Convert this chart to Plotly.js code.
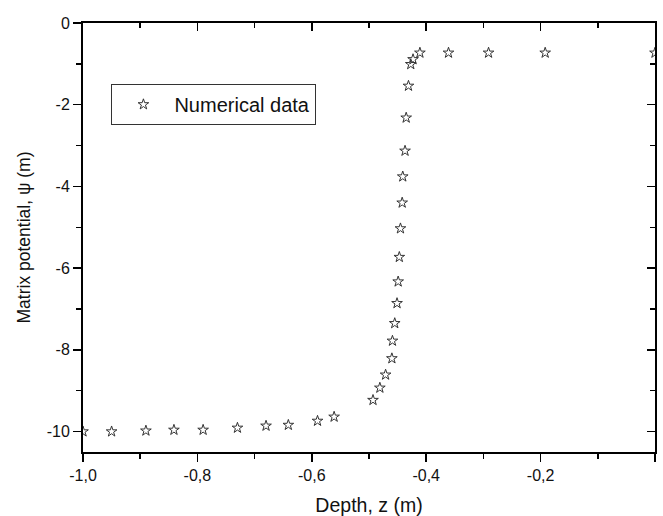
<!DOCTYPE html>
<html>
<head>
<meta charset="utf-8">
<script src="https://cdn.plot.ly/plotly-3.0.1.min.js"></script>
<style>html,body{margin:0;padding:0;background:#fff;}#chart{width:663px;height:516px;}</style>
</head>
<body>
<div id="chart"></div>
<script>
// Depth z (m)
const depth = [-1.0, -0.95, -0.89, -0.841, -0.79, -0.73, -0.68, -0.641, -0.59, -0.561,
  -0.493, -0.481, -0.471, -0.46, -0.459, -0.455, -0.451, -0.449, -0.447, -0.445,
  -0.442, -0.441, -0.437, -0.435, -0.431, -0.427, -0.423, -0.411, -0.361, -0.291, -0.192, 0.0];
// Matrix potential psi (m)
const psi = [-10.0, -10.0, -9.98, -9.96, -9.96, -9.91, -9.86, -9.84, -9.74, -9.64,
  -9.23, -8.93, -8.61, -8.21, -7.78, -7.35, -6.86, -6.33, -5.73, -5.03,
  -4.40, -3.76, -3.13, -2.32, -1.54, -1.01, -0.89, -0.73, -0.73, -0.73, -0.73, -0.73];

const xTickVals = [-1.0, -0.8, -0.6, -0.4, -0.2, 0.0];
const xTickText = ['-1,0', '-0,8', '-0,6', '-0,4', '-0,2', '0,0'];
const yTickVals = [0, -2, -4, -6, -8, -10];
const yTickText = ['0', '-2', '-4', '-6', '-8', '-10'];
const seriesName = 'Numerical data';

const font = {family: '"Liberation Sans", Arial, sans-serif', color: '#111'};

const traces = [
  {
    x: depth, y: psi, type: 'scatter', mode: 'markers', name: seriesName,
    marker: {symbol: 'star-open', size: 8, color: '#333', line: {width: 1, color: '#333'}},
    xaxis: 'x', yaxis: 'y'
  },
  {
    x: depth, y: psi, type: 'scatter', mode: 'markers', showlegend: false, hoverinfo: 'skip',
    marker: {symbol: 'star-open', size: 8, opacity: 0},
    xaxis: 'x2', yaxis: 'y2'
  }
];

const axCommon = {showgrid: false, zeroline: false, showline: true, linecolor: '#000', linewidth: 2,
  tickcolor: '#000', tickwidth: 1.5};

const layout = {
  width: 663, height: 516,
  margin: {l: 83, r: 8, t: 23, b: 64},
  paper_bgcolor: '#fff', plot_bgcolor: '#fff',
  font: Object.assign({size: 16}, font),
  showlegend: true,
  legend: {x: 0.0497, y: 0.858, xanchor: 'left', yanchor: 'top', bordercolor: '#333', borderwidth: 1,
    bgcolor: '#fff', font: Object.assign({size: 20}, font), itemwidth: 52},
  xaxis: Object.assign({}, axCommon, {
    range: [-1.0, 0.0], tickmode: 'array', tickvals: xTickVals, ticktext: xTickText,
    ticks: 'outside', ticklen: 8, tickfont: Object.assign({size: 16}, font),
    minor: {dtick: 0.1, tick0: 0, ticks: 'outside', ticklen: 5, tickcolor: '#000', tickwidth: 1.5},
    title: {text: 'Depth, z (m)', font: Object.assign({size: 19.5}, font)}
  }),
  yaxis: Object.assign({}, axCommon, {
    range: [-10.5, 0.0], tickmode: 'array', tickvals: yTickVals, ticktext: yTickText,
    ticks: 'outside', ticklen: 8, tickfont: Object.assign({size: 16}, font),
    automargin: true,
    minor: {dtick: 1, tick0: 0, ticks: 'outside', ticklen: 5, tickcolor: '#000', tickwidth: 1.5},
    title: {text: 'Matrix potential, ψ (m)', standoff: 12, font: Object.assign({size: 17.5}, font)}
  }),
  xaxis2: Object.assign({}, axCommon, {
    overlaying: 'x', side: 'top', range: [-1.0, 0.0], anchor: 'y2',
    tickmode: 'array', tickvals: xTickVals, showticklabels: false, ticks: 'inside', ticklen: 8,
    minor: {dtick: 0.1, tick0: 0, ticks: 'inside', ticklen: 5, tickcolor: '#000', tickwidth: 1.5}
  }),
  yaxis2: Object.assign({}, axCommon, {
    overlaying: 'y', side: 'right', range: [-10.5, 0.0], anchor: 'x2',
    tickmode: 'array', tickvals: yTickVals, showticklabels: false, ticks: 'inside', ticklen: 8,
    minor: {dtick: 1, tick0: 0, ticks: 'inside', ticklen: 5, tickcolor: '#000', tickwidth: 1.5}
  })
};

Plotly.newPlot('chart', traces, layout, {staticPlot: true, displayModeBar: false});
</script>
</body>
</html>
